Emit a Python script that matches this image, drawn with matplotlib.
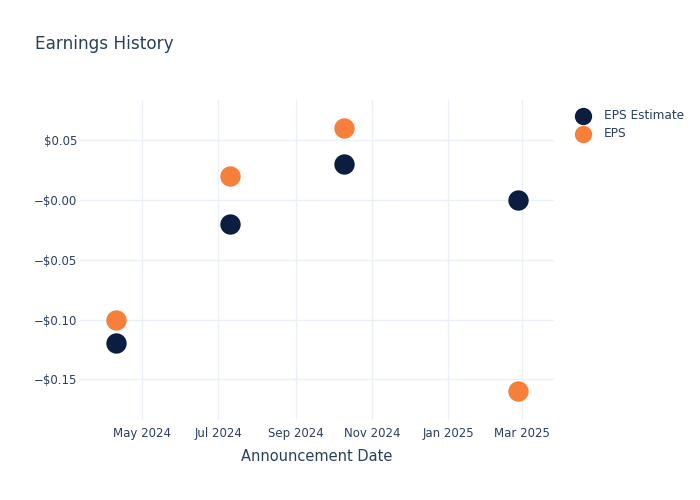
import matplotlib
matplotlib.use("Agg")
import matplotlib.pyplot as plt
import matplotlib.dates as mdates
import pandas as pd

# Datos
fechas = pd.to_datetime(['2024-04-10', '2024-07-10', '2024-10-10', '2025-02-26'])
eps_estimado = [-0.12, -0.02, 0.03, 0.00]
eps_real = [-0.10, 0.02, 0.06, -0.16]

color_texto = '#2a3f5f'
color_grid = '#ebf0f8'

fig = plt.figure(figsize=(7, 5), dpi=100)
ax = fig.add_axes([80/700, 80/500, 474/700, 320/500])

ax.scatter(fechas, eps_estimado, s=215, color='#0b1e40', label='EPS Estimate', zorder=3, linewidths=0)
ax.scatter(fechas, eps_real, s=215, color='#f6803a', label='EPS', zorder=3, linewidths=0)

ax.set_xlim(pd.Timestamp('2024-03-12'), pd.Timestamp('2025-03-27'))
ax.set_ylim(-0.184, 0.0836)

ax.xaxis.set_major_locator(mdates.MonthLocator(bymonth=[1, 3, 5, 7, 9, 11]))
ax.xaxis.set_major_formatter(mdates.DateFormatter('%b %Y'))
ax.set_yticks([-0.15, -0.10, -0.05, 0.0, 0.05])

def formato_dolar(v, pos):
    if v > 1e-9:
        return f'${v:.2f}'
    return f'\u2212${abs(v):.2f}'

ax.yaxis.set_major_formatter(plt.FuncFormatter(formato_dolar))

ax.grid(True, color=color_grid, linewidth=1)
ax.set_axisbelow(True)
for lado in ax.spines.values():
    lado.set_visible(False)
ax.tick_params(length=0, labelsize=8.5, labelcolor=color_texto)
ax.tick_params(axis='y', pad=2)
ax.tick_params(axis='x', pad=5)

ax.set_xlabel('Announcement Date', fontsize=10.5, color=color_texto, labelpad=6.5)
fig.text(35/700, 1 - 44/500, 'Earnings History', fontsize=12.2, color=color_texto, va='center')

ax.legend(loc='upper left', bbox_to_anchor=(566/700, 1 - 104/500), bbox_transform=fig.transFigure,
          frameon=False, fontsize=8.7, labelcolor=color_texto, markerscale=0.85,
          handletextpad=0.75, labelspacing=0.42, borderaxespad=0)

fig.savefig('out.png', dpi=100)
